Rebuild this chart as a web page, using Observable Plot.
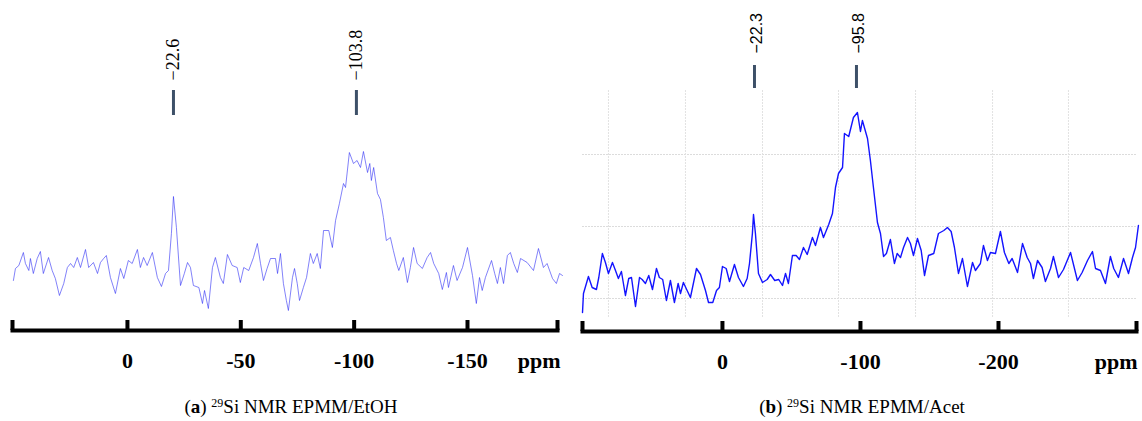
<!DOCTYPE html>
<html>
<head>
<meta charset="utf-8">
<script src="https://cdn.jsdelivr.net/npm/d3@7"></script>
<script src="https://cdn.jsdelivr.net/npm/@observablehq/plot@0.6"></script>
<style>
  html, body { margin: 0; padding: 0; background: #fff; }
  #root { position: relative; width: 1142px; height: 421px; overflow: hidden; }
  .panel { position: absolute; top: 0; }
  .caption { position: absolute; top: 395px; font-family: "Liberation Serif", serif; font-size: 19px; line-height: 24px; color: #000; white-space: nowrap; transform: translateX(-50%); }
  .caption sup { font-size: 12px; vertical-align: 6px; line-height: 0; }
</style>
</head>
<body>
<div id="root"></div>
<script>
// ---------- Panel (a): 29Si NMR EPMM/EtOH ----------
const leftPpm = [50.3, 49.4, 47.9, 45.9, 45.0, 43.5, 42.8, 41.5, 39.8, 38.4,
  37.1, 34.8, 33.2, 31.8, 30.0, 28.1, 26.5, 25.1, 23.7, 22.1,
  20.7, 18.5, 17.1, 15.0, 13.2, 11.9, 10.5, 9.3, 7.5, 5.3,
  3.1, 1.6, -0.4, -2.1, -4.4, -5.7, -7.1, -8.7, -11.0, -13.2,
  -15.0, -16.8, -18.1, -19.4, -20.3, -21.6, -23.4, -25.1, -26.5, -27.8,
  -29.1, -31.5, -33.1, -34.0, -35.7, -37.5, -38.8, -41.0, -42.3, -44.1,
  -46.2, -48.4, -49.8, -51.3, -53.5, -55.6, -57.3, -58.7, -60.0, -61.6,
  -63.1, -65.3, -66.2, -67.5, -68.8, -70.1, -71.0, -72.8, -73.7, -74.9,
  -75.9, -77.6, -79.0, -80.7, -82.0, -83.7, -85.1, -86.5, -88.8, -90.4,
  -91.8, -93.5, -95.3, -96.2, -97.9, -99.7, -101.3, -102.8, -104.1, -105.9,
  -106.9, -107.6, -108.6, -110.3, -111.6, -112.9, -114.2, -116.0, -117.3, -118.7,
  -119.7, -121.7, -123.5, -124.8, -126.2, -127.8, -130.1, -132.2, -133.7, -135.1,
  -137.3, -138.9, -140.7, -141.6, -143.8, -145.4, -147.8, -150.0, -152.2, -153.9,
  -155.3, -156.5, -157.9, -160.6, -162.0, -163.2, -164.5, -165.9, -167.6, -168.9,
  -170.4, -172.0, -173.4, -176.3, -179.1, -181.3, -183.5, -185.1, -187.5, -189.2,
  -190.6, -191.9];
const leftIntensity = [49, 61, 64, 77, 66, 59, 71, 56, 71, 78,
  56, 72, 59, 51, 34, 46, 62, 66, 62, 72,
  62, 80, 62, 67, 56, 67, 71, 74, 52, 36,
  61, 51, 69, 66, 80, 62, 72, 64, 77, 52,
  43, 56, 59, 96, 133, 102, 44, 56, 67, 62,
  44, 42, 26, 39, 21, 62, 72, 52, 46, 75,
  64, 62, 47, 62, 59, 72, 86, 66, 49, 61,
  71, 71, 56, 76, 46, 29, 19, 52, 61, 46,
  29, 42, 52, 76, 66, 76, 61, 99, 99, 82,
  109, 126, 146, 142, 177, 166, 169, 162, 178, 157,
  166, 149, 162, 136, 130, 112, 89, 92, 79, 66,
  59, 72, 47, 62, 82, 66, 61, 72, 77, 66,
  56, 40, 57, 42, 64, 49, 62, 82, 54, 26,
  52, 39, 52, 69, 56, 46, 62, 46, 74, 77,
  66, 57, 71, 67, 59, 81, 62, 66, 51, 46,
  56, 54];
const leftPeakPpm = [-20.3, -101.0];
const leftPeakLabels = ["\u221222.6", "\u2212103.8"];
const leftTickValues = [0, -50, -100, -150];
const leftTickLabels = ["0", "-50", "-100", "-150"];
const leftAxisTicks = [50.7, 0, -50, -100, -150, -189.7];
const leftDomain = [50.7, -189.7];

// ---------- Panel (b): 29Si NMR EPMM/Acet ----------
const rightPpm = [101.4, 100.7, 97.1, 94.4, 91.3, 89.6, 87.0, 84.8, 82.6, 79.7,
  77.5, 75.4, 73.2, 70.3, 67.9, 65.9, 63.0, 60.1, 58.2, 55.8,
  53.4, 50.7, 47.8, 45.7, 43.3, 40.6, 37.7, 34.8, 32.1, 30.4,
  28.3, 25.6, 23.2, 18.8, 15.9, 12.3, 10.1, 7.0, 4.3, 2.2,
  0, -2.7, -5.1, -8.7, -11.6, -15.2, -17.9, -19.6, -21.7, -22.5,
  -23.9, -26.1, -29.0, -32.4, -34.8, -37.9, -40.8, -43.5, -45.7, -47.8,
  -50.7, -53.4, -55.8, -58.7, -61.4, -65.2, -67.4, -71.0, -73.2, -77.0,
  -79.7, -81.9, -84.1, -87.0, -88.4, -91.5, -94.9, -97.8, -100.0, -101.4,
  -105.1, -107.2, -109.4, -112.3, -114.5, -116.7, -118.8, -121.7, -124.6, -126.6,
  -129.0, -131.2, -134.1, -136.2, -138.4, -141.3, -144.0, -146.4, -149.3, -153.1,
  -156.5, -160.4, -163.0, -165.7, -168.1, -171.0, -173.9, -177.5, -181.2, -183.3,
  -186.9, -189.1, -192.0, -194.2, -197.8, -201.4, -204.3, -207.5, -209.9, -213.8,
  -217.4, -220.8, -223.2, -225.3, -228.3, -231.6, -234.0, -237.7, -239.8, -243.5,
  -247.1, -252.2, -257.2, -260.6, -264.5, -268.1, -270.3, -273.9, -277.5, -281.1,
  -283.5, -286.9, -290.6, -294.2, -297.1, -299.3, -301.4];
const rightIntensity = [-14, 5, 22, 11, 9, 21, 45, 36, 25, 36,
  28, 20, 27, 3, 20, 21, -8, 21, 19, 15,
  23, 9, 30, 21, 19, -2, 18, -4, 15, 5,
  16, 8, 1, 30, 24, 8, -4, -4, 8, 11,
  32, 30, 17, 34, 21, 12, 20, 35, 65, 84,
  65, 25, 16, 19, 24, 18, 19, 13, 25, 15,
  43, 43, 39, 51, 44, 61, 53, 71, 61, 74,
  85, 111, 125, 131, 165, 162, 181, 186, 167, 178,
  160, 138, 111, 76, 65, 42, 45, 59, 35, 45,
  41, 51, 61, 55, 43, 60, 48, 23, 43, 45,
  65, 68, 71, 67, 51, 25, 40, 12, 36, 28,
  35, 53, 38, 46, 45, 67, 46, 35, 40, 26,
  55, 41, 35, 20, 38, 31, 17, 30, 42, 21,
  29, 46, 18, 26, 38, 47, 30, 28, 15, 42,
  30, 21, 40, 25, 41, 51, 73];
const rightPeakPpm = [-23.2, -97.1];
const rightPeakLabels = ["\u221222.3", "\u221295.8"];
const rightTickValues = [0, -100, -200];
const rightTickLabels = ["0", "-100", "-200"];
const rightAxisTicks = [101.4, 0, -100, -200, -300];
const rightDomain = [101.4, -300];
const rightGridPpm = [82.6, 26.8, -29.0, -84.1, -139.9, -195.7, -250.7];
const rightGridIntensity = [0, 72, 144];

const leftData = leftPpm.map((p, i) => ({ppm: p, intensity: leftIntensity[i]}));
const rightData = rightPpm.map((p, i) => ({ppm: p, intensity: rightIntensity[i]}));
const leftPeaks = leftPeakPpm.map((p, i) => ({ppm: p, label: leftPeakLabels[i]}));
const rightPeaks = rightPeakPpm.map((p, i) => ({ppm: p, label: rightPeakLabels[i]}));

const serif = "'Liberation Serif', 'Times New Roman', serif";
const sans = "'Liberation Sans', Arial, sans-serif";

function axisMarks(ticks, tickValues, tickLabels) {
  return [
    Plot.frame({anchor: "bottom", stroke: "#000", strokeWidth: 4}),
    Plot.axisX({ticks, tickSize: -10, stroke: "#000", strokeWidth: 4, tickFormat: () => "", label: null}),
    Plot.text(tickValues, {x: d => d, text: (d, i) => tickLabels[i], frameAnchor: "bottom", dy: 37,
      fontFamily: serif, fontWeight: "bold", fontSize: 22, fill: "#000"}),
  ];
}

const left = Plot.plot({
  width: 575, height: 385,
  marginLeft: 12, marginRight: 18, marginTop: 0, marginBottom: 55,
  style: {background: "transparent", overflow: "visible"},
  x: {domain: leftDomain, label: null},
  y: {domain: [-1, 329], axis: null},
  marks: [
    Plot.line(leftData, {x: "ppm", y: "intensity", stroke: "#2f2ff5", strokeWidth: 1, strokeOpacity: 0.6}),
    Plot.ruleX(leftPeaks, {x: "ppm", y1: 214, y2: 239, stroke: "#3d5068", strokeWidth: 3}),
    Plot.text(leftPeaks, {x: "ppm", y: 249, text: "label", rotate: -90, textAnchor: "start",
      fontFamily: serif, fontSize: 18, fill: "#000"}),
    ...axisMarks(leftAxisTicks, leftTickValues, leftTickLabels),
    Plot.text(["ppm"], {frameAnchor: "bottom-right", dx: 3, dy: 37, textAnchor: "end",
      fontFamily: serif, fontWeight: "bold", fontSize: 22, fill: "#000"}),
  ]
});

const right = Plot.plot({
  width: 567, height: 385,
  marginLeft: 7, marginRight: 6, marginTop: 0, marginBottom: 54,
  style: {background: "transparent", overflow: "visible"},
  x: {domain: rightDomain, label: null},
  y: {domain: [-33, 298], axis: null},
  marks: [
    Plot.ruleY(rightGridIntensity, {y: d => d, stroke: "#dcdcdc", strokeWidth: 1, strokeDasharray: "2,1"}),
    Plot.ruleX(rightGridPpm, {x: d => d, y1: -19, y2: 208, stroke: "#e2e2e2", strokeWidth: 1, strokeDasharray: "2,1"}),
    Plot.line(rightData, {x: "ppm", y: "intensity", stroke: "#1414ff", strokeWidth: 1.4}),
    Plot.ruleX(rightPeaks, {x: "ppm", y1: 210, y2: 233, stroke: "#3d5068", strokeWidth: 3}),
    Plot.text(rightPeaks, {x: "ppm", y: 245, dx: 2, text: "label", rotate: -90, textAnchor: "start",
      fontFamily: sans, fontSize: 16, fill: "#000"}),
    ...axisMarks(rightAxisTicks, rightTickValues, rightTickLabels),
    Plot.text(["ppm"], {frameAnchor: "bottom-right", dx: 1, dy: 37, textAnchor: "end",
      fontFamily: serif, fontWeight: "bold", fontSize: 22, fill: "#000"}),
  ]
});

const root = document.getElementById("root");
const pl = document.createElement("div"); pl.className = "panel"; pl.style.left = "0px"; pl.appendChild(left);
const pr = document.createElement("div"); pr.className = "panel"; pr.style.left = "575px"; pr.appendChild(right);
root.appendChild(pl); root.appendChild(pr);

const capA = document.createElement("div"); capA.className = "caption"; capA.style.left = "291px";
capA.innerHTML = "(<b>a</b>) <sup>29</sup>Si NMR EPMM/EtOH";
const capB = document.createElement("div"); capB.className = "caption"; capB.style.left = "862px";
capB.innerHTML = "(<b>b</b>) <sup>29</sup>Si NMR EPMM/Acet";
root.appendChild(capA); root.appendChild(capB);
</script>
</body>
</html>
